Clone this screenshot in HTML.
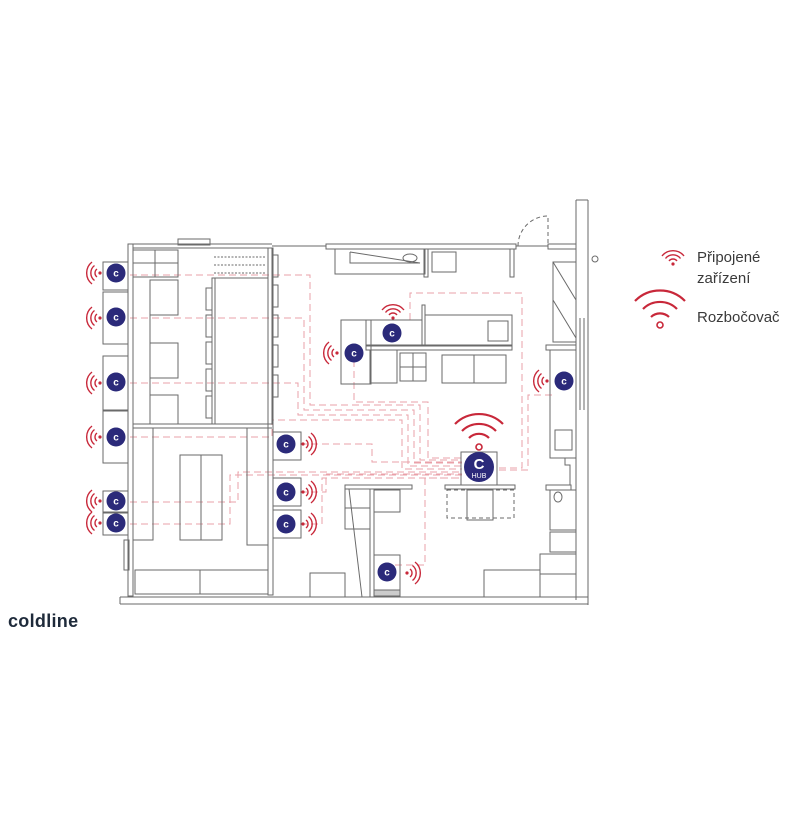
<!DOCTYPE html>
<html><head><meta charset="utf-8"><style>
html,body{margin:0;padding:0;background:#fff;}
svg{display:block;}
</style></head><body>
<svg width="800" height="823" viewBox="0 0 800 823" xmlns="http://www.w3.org/2000/svg">
<defs>
<g id="wr" fill="none" stroke="#c8283a" stroke-width="1.4">
<circle cx="0" cy="0" r="1.6" fill="#c8283a" stroke="none"/>
<path d="M3,-4 A5,5 0 0 1 3,4"/><path d="M5.5,-7.5 A9.5,9.5 0 0 1 5.5,7.5"/><path d="M8,-11 A14,14 0 0 1 8,11"/>
</g>
<g id="dev"><circle cx="0" cy="0" r="9.5" fill="#2b2a7a"/><text x="0" y="3.5" text-anchor="middle" font-family="Liberation Sans, sans-serif" font-weight="bold" font-size="10" fill="#fff">c</text></g>
</defs>

<g fill="none" stroke="#eaa0a8" stroke-width="1" stroke-dasharray="7,4">
<polyline points="130,275 310,275 310,405 420,405 420,460 462,460"/>
<polyline points="130,318 304,318 304,410 414,410 414,463 462,463"/>
<polyline points="130,383 298,383 298,415 408,415 408,466 462,466"/>
<polyline points="130,437 272,437 272,420 402,420 402,469 462,469"/>
<polyline points="130,502 238,502 238,472 462,472"/>
<polyline points="130,524 230,524 230,475 462,475"/>
<polyline points="300,444 372,444 372,462 462,462"/>
<polyline points="300,492 326,492 326,474 462,474"/>
<polyline points="300,524 322,524 322,478 462,478"/>
<polyline points="354,360 354,402 428,402 428,458 462,458"/>
<polyline points="410,320 410,293 522,293 522,468 497,468"/>
<polyline points="552,395 528,395 528,470 497,470"/>
<polyline points="395,565 425,565 425,478 462,478"/>
</g>

<g fill="none" stroke="#6a6a6a" stroke-width="1">
<rect x="128" y="244" width="5" height="352"/>
<line x1="133" y1="244" x2="272" y2="244"/><line x1="133" y1="248" x2="272" y2="248"/>
<rect x="178" y="239" width="32" height="6"/>
<line x1="272" y1="246" x2="326" y2="246"/>
<rect x="326" y="244" width="190" height="5"/>
<line x1="516" y1="246" x2="548" y2="246"/>
<rect x="548" y="244" width="28" height="5"/>
<path d="M518,246 A30,30 0 0 1 548,216 L548,246" stroke-dasharray="4,3"/>
<line x1="576" y1="200" x2="576" y2="600"/><line x1="588" y1="200" x2="588" y2="605"/>
<line x1="576" y1="200" x2="588" y2="200"/>
<circle cx="595" cy="259" r="3"/>
<line x1="120" y1="597" x2="588" y2="597"/><line x1="120" y1="604" x2="588" y2="604"/>
<line x1="120" y1="597" x2="120" y2="604"/>
<line x1="580" y1="318" x2="580" y2="410"/><line x1="584" y1="318" x2="584" y2="410"/>
<rect x="133" y="248" width="139" height="176"/>
<line x1="133" y1="424" x2="272" y2="424"/><line x1="133" y1="428" x2="272" y2="428"/>
<rect x="268" y="248" width="5" height="347"/>
<rect x="133" y="250" width="45" height="27"/><line x1="155" y1="250" x2="155" y2="277"/><line x1="133" y1="263" x2="178" y2="263"/>
<rect x="150" y="280" width="28" height="35"/><rect x="150" y="343" width="28" height="35"/><rect x="150" y="395" width="28" height="29"/>
<line x1="150" y1="280" x2="150" y2="424"/>
<rect x="212" y="278" width="56" height="146"/><line x1="215" y1="278" x2="215" y2="424"/>
<g stroke-dasharray="2,1.5"><line x1="214" y1="257" x2="266" y2="257"/><line x1="214" y1="265" x2="266" y2="265"/><line x1="214" y1="273" x2="266" y2="273"/></g>
<rect x="206" y="288" width="6" height="22"/><rect x="206" y="315" width="6" height="22"/><rect x="206" y="342" width="6" height="22"/><rect x="206" y="369" width="6" height="22"/><rect x="206" y="396" width="6" height="22"/>
<rect x="272" y="255" width="6" height="22"/><rect x="272" y="285" width="6" height="22"/><rect x="272" y="315" width="6" height="22"/><rect x="272" y="345" width="6" height="22"/><rect x="272" y="375" width="6" height="22"/>
<rect x="133" y="428" width="20" height="112"/>
<rect x="180" y="455" width="42" height="85"/><line x1="201" y1="455" x2="201" y2="540"/>
<rect x="247" y="428" width="21" height="117"/>
<rect x="135" y="570" width="65" height="24"/><rect x="200" y="570" width="68" height="24"/>
<rect x="124" y="540" width="5" height="30"/>
<rect x="103" y="262" width="25" height="28"/><rect x="103" y="292" width="25" height="52"/>
<rect x="103" y="356" width="25" height="54"/><rect x="103" y="411" width="25" height="52"/>
<rect x="103" y="491" width="25" height="21"/><rect x="103" y="513" width="25" height="22"/>
<rect x="273" y="432" width="28" height="28"/><rect x="273" y="478" width="28" height="28"/><rect x="273" y="510" width="28" height="28"/>
<rect x="335" y="249" width="90" height="25"/><polyline points="350,252 350,263 420,263 350,252"/><ellipse cx="410" cy="258" rx="7" ry="4"/>
<rect x="424" y="249" width="4" height="28"/><rect x="432" y="252" width="24" height="20"/>
<rect x="510" y="249" width="4" height="28"/>
<rect x="341" y="320" width="30" height="64"/>
<rect x="366" y="320" width="56" height="25"/>
<rect x="422" y="305" width="3" height="40"/>
<rect x="425" y="315" width="87" height="30"/><rect x="488" y="321" width="20" height="20"/>
<rect x="366" y="346" width="146" height="4"/>
<rect x="370" y="350" width="27" height="33"/>
<rect x="400" y="353" width="26" height="28"/><line x1="413" y1="353" x2="413" y2="381"/><line x1="400" y1="367" x2="426" y2="367"/>
<rect x="442" y="355" width="64" height="28"/><line x1="474" y1="355" x2="474" y2="383"/>
<rect x="553" y="262" width="23" height="80"/><line x1="553" y1="262" x2="576" y2="300"/><line x1="553" y1="300" x2="576" y2="338"/>
<rect x="546" y="345" width="30" height="5"/>
<rect x="550" y="350" width="26" height="108"/><rect x="555" y="430" width="17" height="20"/>
<polyline points="550,458 565,458 565,465 570,465 570,485"/>
<rect x="546" y="485" width="25" height="5"/><ellipse cx="558" cy="497" rx="4" ry="5"/>
<rect x="550" y="490" width="26" height="40"/><rect x="550" y="532" width="26" height="20"/>
<rect x="540" y="554" width="36" height="20"/><rect x="540" y="574" width="36" height="23"/>
<rect x="461" y="452" width="36" height="33"/>
<rect x="445" y="485" width="70" height="4"/>
<rect x="447" y="490" width="67" height="28" stroke-dasharray="4,3"/><rect x="467" y="490" width="26" height="30"/>
<rect x="484" y="570" width="56" height="27"/>
<rect x="345" y="485" width="67" height="4"/>
<rect x="345" y="489" width="25" height="40"/><line x1="345" y1="508" x2="370" y2="508"/><line x1="349" y1="489" x2="362" y2="597"/>
<rect x="370" y="489" width="4" height="108"/>
<rect x="374" y="490" width="26" height="22"/>
<rect x="374" y="555" width="26" height="37"/><rect x="374" y="590" width="26" height="6" fill="#ccc"/>
<rect x="310" y="573" width="35" height="24"/>
</g>

<g>
<use href="#wr" transform="translate(100,273) scale(-1,1)"/>
<use href="#wr" transform="translate(100,318) scale(-1,1)"/>
<use href="#wr" transform="translate(100,383) scale(-1,1)"/>
<use href="#wr" transform="translate(100,437) scale(-1,1)"/>
<use href="#wr" transform="translate(100,501) scale(-1,1)"/>
<use href="#wr" transform="translate(100,523) scale(-1,1)"/>
<use href="#wr" transform="translate(303,444)"/>
<use href="#wr" transform="translate(303,492)"/>
<use href="#wr" transform="translate(303,524)"/>
<use href="#wr" transform="translate(337,353) scale(-1,1)"/>
<use href="#wr" transform="translate(547,381) scale(-1,1)"/>
<use href="#wr" transform="translate(407,573)"/>
<use href="#wr" transform="translate(393,318) rotate(-90)"/>
<use href="#wr" transform="translate(673,264) rotate(-90)"/>
</g>
<use href="#dev" x="116" y="273"/><use href="#dev" x="116" y="317"/><use href="#dev" x="116" y="382"/>
<use href="#dev" x="116" y="437"/><use href="#dev" x="116" y="501"/><use href="#dev" x="116" y="523"/>
<use href="#dev" x="286" y="444"/><use href="#dev" x="286" y="492"/><use href="#dev" x="286" y="524"/>
<use href="#dev" x="392" y="333"/><use href="#dev" x="354" y="353"/><use href="#dev" x="564" y="381"/><use href="#dev" x="387" y="572"/>

<g fill="none" stroke="#c8283a" stroke-width="2.2">
<circle cx="479" cy="447" r="3" stroke-width="1.6"/>
<path d="M469,438 A14,14 0 0 1 489,438"/>
<path d="M462,431 A24,24 0 0 1 496,431"/>
<path d="M455,424 A34,34 0 0 1 503,424"/>
</g>
<circle cx="479" cy="467" r="15" fill="#2b2a7a"/>
<text x="479" y="469" text-anchor="middle" font-family="Liberation Sans, sans-serif" font-weight="bold" font-size="15" fill="#fff">C</text>
<text x="479" y="478" text-anchor="middle" font-family="Liberation Sans, sans-serif" font-size="7" fill="#fff">HUB</text>

<g fill="none" stroke="#c8283a" stroke-width="2.2">
<circle cx="660" cy="325" r="3" stroke-width="1.6"/>
<path d="M651,317 A13,13 0 0 1 669,317"/>
<path d="M643,309 A24,24 0 0 1 677,309"/>
<path d="M635,301 A35,35 0 0 1 685,301"/>
</g>
<g font-family="Liberation Sans, sans-serif" font-size="15" fill="#3a3a3a">
<text x="697" y="262">Připojené</text>
<text x="697" y="283">zařízení</text>
<text x="697" y="322">Rozbočovač</text>
</g>
<text x="8" y="627" font-family="Liberation Sans, sans-serif" font-weight="bold" font-size="18" fill="#1e2a3a" letter-spacing="0.3">coldline</text>
</svg>
</body></html>
